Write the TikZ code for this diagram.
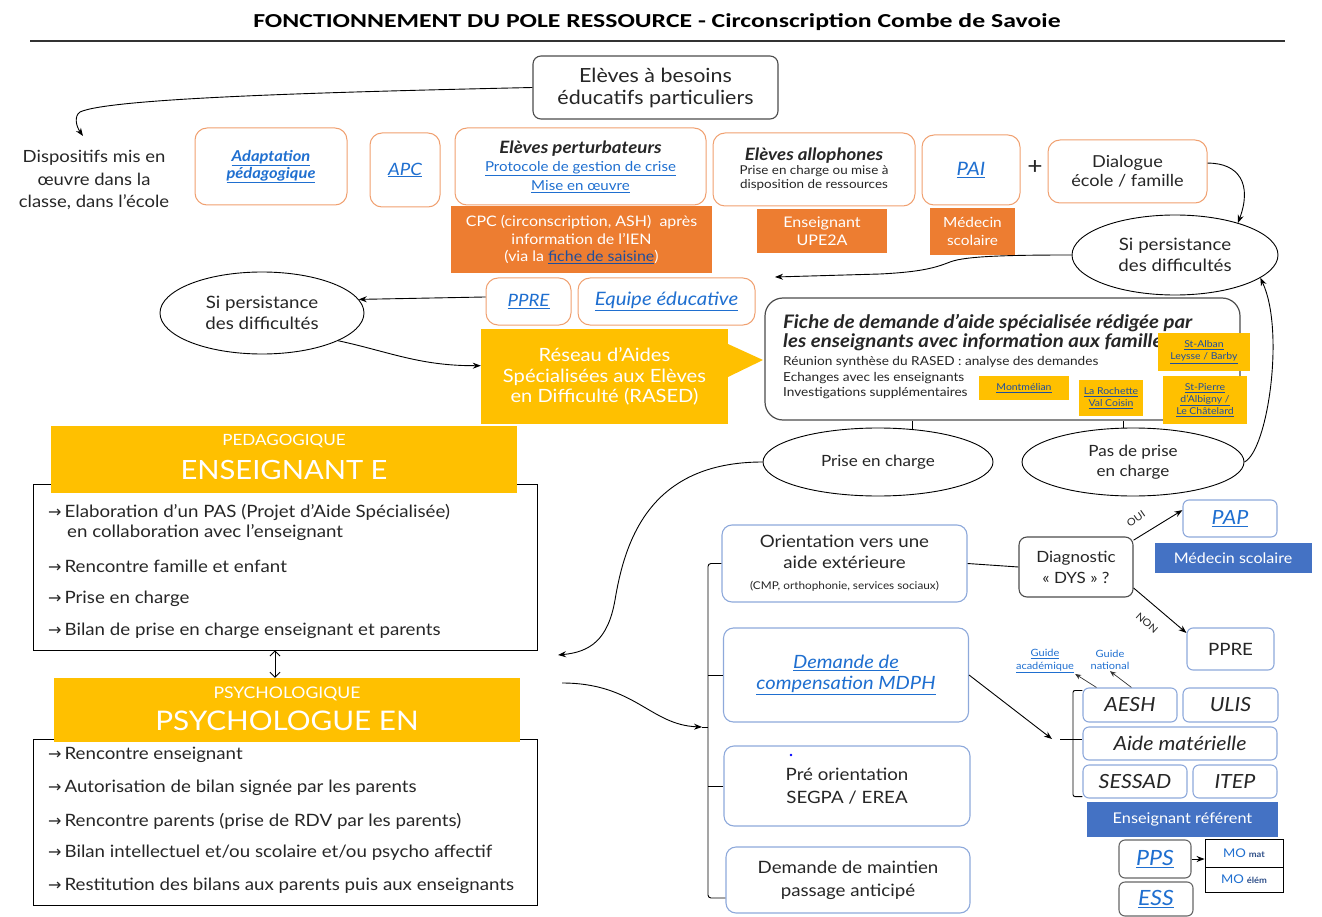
\documentclass[tikz,border=0pt]{standalone}
\usepackage{fontspec}
\setmainfont{Lato}[FakeStretch=1.1]
\newfontfamily\titlefont{Carlito}[FakeStretch=1.3]
\newfontfamily\dejavu{DejaVu Sans}
\usetikzlibrary{shapes.geometric,arrows.meta}
\definecolor{orB}{HTML}{F0A070}
\definecolor{orF}{HTML}{ED7D31}
\definecolor{yel}{HTML}{FFC000}
\definecolor{blF}{HTML}{4472C4}
\definecolor{blB}{HTML}{8EA9DB}
\definecolor{lnk}{HTML}{1F6FD0}
\definecolor{lnkD}{HTML}{1F4E9C}
\definecolor{txt}{HTML}{262626}
\newcommand{\lnk}[1]{\textcolor{lnk}{\underline{#1}}}
\newcommand{\lnkd}[1]{\textcolor{lnkD}{\underline{#1}}}
\newcommand{\fsz}[2]{\fontsize{#1}{#2}\selectfont}
\newcommand{\itemarr}{{\dejavu\fontsize{16}{16}\selectfont →}\kern3pt}
\tikzset{
  obox/.style={draw=orB, line width=1pt, rounded corners=12pt, fill=white, align=center, inner sep=2pt},
  ofill/.style={fill=orF, text=white, align=center, inner sep=2pt},
  bbox/.style={draw=blB, line width=1.1pt, rounded corners=10pt, fill=white, align=center, inner sep=2pt},
  bfill/.style={fill=blF, text=white, align=center, inner sep=2pt},
  ybox/.style={fill=yel, text=white, align=center, inner sep=2pt},
  ysmall/.style={fill=yel, align=center, inner sep=1pt, font=\fsz{9.5}{12}},
  ell/.style={draw=black, line width=0.9pt, ellipse, align=center, inner sep=0pt, fill=white},
  gbox/.style={draw=black!70, line width=1.1pt, rounded corners=8pt, fill=white, align=center, inner sep=2pt},
  plainbox/.style={draw=black, line width=0.9pt, inner sep=0pt},
  txtn/.style={inner sep=0pt, anchor=west},
  arr/.style={-{Stealth[length=8pt,width=6pt]}, line width=0.9pt},
  arrthin/.style={-{Stealth[length=6pt,width=5pt]}, line width=0.7pt, draw=black!80},
}
\begin{document}
\begin{tikzpicture}[x=1pt,y=-1pt, every node/.append style={text=txt}]
\useasboundingbox (0,0) rectangle (1322,917);

% title
\node[font=\titlefont\bfseries\fsz{19.8}{22}, text=black] (title) at (657,22) {FONCTIONNEMENT DU POLE RESSOURCE - Circonscription Combe de Savoie};
\coordinate (ulA) at (30,41);
\coordinate (ulB) at (1285,41);
\draw[line width=1.3pt, black!80] (ulA) -- (ulB);

% top box
\node[gbox, minimum width=245pt, minimum height=63pt, font=\fsz{19.5}{22}] (elev) at (655.5,87.5) {Elèves à besoins\\éducatifs particuliers};
\node[font=\fsz{16.8}{22.5}, align=center, inner sep=0pt] (disp) at (94,180) {Dispositifs mis en\\œuvre dans la\\classe, dans l’école};
\coordinate (dispTop) at (83,136);
\draw[arr] (elev.west) .. controls (330,92) and (110,98) .. (80,112) .. controls (74,116) and (76,126) .. (dispTop);

% orange row
\node[obox, minimum width=152pt, minimum height=77pt, font=\bfseries\itshape\fsz{15}{17}] (adapt) at (271,166.5) {\lnk{Adaptation}\\\lnk{pédagogique}};
\node[obox, minimum width=70pt, minimum height=74pt, font=\itshape\fsz{17}{20}] (apc) at (405,170) {\lnk{APC}};
\node[obox, minimum width=251pt, minimum height=77pt, font=\fsz{13.7}{18.5}] (pert) at (580.5,166.5) {{\bfseries\itshape\fsz{17}{18.5}Elèves perturbateurs}\\\lnk{Protocole de gestion de crise}\\\lnk{Mise en œuvre}};
\node[ofill, minimum width=261pt, minimum height=67pt, font=\fsz{14.5}{17.5}] (cpc) at (581.5,239.5) {CPC (circonscription, ASH)\ \ après\\information de l'IEN\\(via la \lnkd{fiche de saisine})};
\node[obox, minimum width=202pt, minimum height=73pt, font=\fsz{12.2}{14}] (allo) at (814,169.5) {{\bfseries\itshape\fsz{17}{18}Elèves allophones}\\Prise en charge ou mise à\\disposition de ressources};
\node[ofill, minimum width=130pt, minimum height=44pt, font=\fsz{14.6}{18}] (upe) at (822,231) {Enseignant\\UPE2A};
\node[obox, minimum width=98pt, minimum height=70pt, font=\itshape\fsz{18.5}{20}] (pai) at (971,170) {\lnk{PAI}};
\node[ofill, minimum width=85pt, minimum height=47pt, font=\fsz{14}{18.5}] (medo) at (972.5,231.5) {Médecin\\scolaire};
\node[font=\fsz{24}{26}] (plus) at (1035,168) {+};
\node[obox, minimum width=159pt, minimum height=63pt, font=\fsz{16.5}{19}] (dial) at (1127.5,171.5) {Dialogue\\école / famille};

% persistance right
\node[ell, minimum width=206pt, minimum height=80pt, font=\fsz{17}{21}] (pers1) at (1175,255) {Si persistance\\des difficultés};
\draw[arr] (dial.6) .. controls (1240,163) and (1252,185) .. (pers1.27);
\coordinate (leftEnd) at (775,277);
\draw[arr] (pers1.west) .. controls (1010,255) and (965,256) .. (950,262) .. controls (935,268) and (920,272) .. (880,274) -- (leftEnd);

% persistance left, PPRE, equipe
\node[ell, minimum width=204pt, minimum height=82pt, font=\fsz{17}{21}] (pers2) at (262,313) {Si persistance\\des difficultés};
\node[obox, minimum width=85pt, minimum height=47pt, font=\itshape\fsz{17}{20}] (ppre1) at (528.5,301.5) {\lnk{PPRE}};
\node[obox, minimum width=177pt, minimum height=47pt, font=\itshape\fsz{18.5}{20}] (equipe) at (666.5,301.5) {\lnk{Equipe éducative}};
\draw[arr] (ppre1.174) -- (pers2.8);

% RASED
\node[ybox, minimum width=247pt, minimum height=95pt, font=\fsz{18.3}{20.5}] (rased) at (604.5,376.5) {Réseau d’Aides\\Spécialisées aux Elèves\\en Difficulté (RASED)};
\fill[yel] (728,344) -- (763,360) -- (728,377) -- cycle;
\draw[arr] (pers2.-20) .. controls (390,352) and (420,366) .. (rased.175);

% fiche
\node[draw=black!70, line width=1.2pt, rounded corners=18pt, minimum width=475pt, minimum height=122pt, fill=white] (fiche) at (1002.5,359) {};
\node[txtn, font=\bfseries\itshape\fsz{18.6}{20}] (f1) at (783,323) {Fiche de demande d’aide spécialisée rédigée par};
\node[txtn, font=\bfseries\itshape\fsz{18.6}{20}] (f2) at (783,342) {les enseignants avec information aux familles};
\node[txtn, font=\fsz{12.4}{15}] (f3) at (783,362) {Réunion synthèse du RASED : analyse des demandes};
\node[txtn, font=\fsz{12.4}{15}] (f4) at (783,378) {Echanges avec les enseignants};
\node[txtn, font=\fsz{12.4}{15}] (f5) at (783,393) {Investigations supplémentaires};
\node[ysmall, minimum width=92pt, minimum height=38pt] (alban) at (1204,352) {\lnkd{St-Alban}\\\lnkd{Leysse / Barby}};
\node[ysmall, minimum width=90pt, minimum height=24pt] (montm) at (1024,388) {\lnkd{Montmélian}};
\node[ysmall, minimum width=64pt, minimum height=36pt] (laroch) at (1111,398) {\lnkd{La Rochette}\\\lnkd{Val Coisin}};
\node[ysmall, minimum width=84pt, minimum height=48pt] (stp) at (1205,400) {\lnkd{St-Pierre}\\\lnkd{d’Albigny /}\\\lnkd{Le Châtelard}};

% prise en charge
\node[ell, minimum width=230pt, minimum height=68pt, font=\fsz{15.5}{20}] (prise) at (878,462) {Prise en charge};
\node[ell, minimum width=222pt, minimum height=68pt, font=\fsz{15.5}{20}] (pasp) at (1133,462) {Pas de prise\\en charge};
\draw[line width=0.9pt] (prise.44) -- (prise.44 |- fiche.south);
\draw[line width=0.9pt] (pasp.105) -- (pasp.105 |- fiche.south);
\draw[arr] (pasp.east) .. controls (1268,450) and (1285,330) .. (pers1.-15);
\coordinate (pcEnd) at (558,655);
\draw[arr] (prise.west) .. controls (650,462) and (625,540) .. (615,600) .. controls (608,640) and (590,652) .. (pcEnd);

% enseignant box
\node[plainbox, minimum width=504pt, minimum height=166pt] (box1) at (285,567) {};
\node[ybox, minimum width=466pt, minimum height=67pt] (ens) at (284,459.5) {};
\node[font=\fsz{15.5}{16}, text=white] (ensA) at (284,441) {PEDAGOGIQUE};
\node[font=\fsz{26.5}{30}, text=white] (ensB) at (284,470) {ENSEIGNANT E};
\node[txtn, font=\fsz{17}{21}] (i1) at (48,512) {\itemarr Elaboration d’un PAS (Projet d’Aide Spécialisée)};
\node[txtn, font=\fsz{17}{21}] (i1b) at (67,533) {en collaboration avec l’enseignant};
\node[txtn, font=\fsz{17}{21}] (i2) at (48,566) {\itemarr Rencontre famille et enfant};
\node[txtn, font=\fsz{17}{21}] (i3) at (48,599) {\itemarr Prise en charge};
\node[txtn, font=\fsz{17}{21}] (i4) at (48,631) {\itemarr Bilan de prise en charge enseignant et parents};

% psychologue box
\node[plainbox, minimum width=504pt, minimum height=166pt] (box2) at (285,822) {};
\node[ybox, minimum width=466pt, minimum height=64pt] (psy) at (287,710) {};
\node[font=\fsz{16}{16}, text=white] (psyA) at (287,694) {PSYCHOLOGIQUE};
\node[font=\fsz{27}{31}, text=white] (psyB) at (287,721) {PSYCHOLOGUE EN};
\node[txtn, font=\fsz{17}{21}] (j1) at (48,755) {\itemarr Rencontre enseignant};
\node[txtn, font=\fsz{17}{21}] (j2) at (48,788) {\itemarr Autorisation de bilan signée par les parents};
\node[txtn, font=\fsz{17}{21}] (j3) at (48,821) {\itemarr Rencontre parents (prise de RDV par les parents)};
\node[txtn, font=\fsz{17}{21}] (j4) at (48,853) {\itemarr Bilan intellectuel et/ou scolaire et/ou psycho affectif};
\node[txtn, font=\fsz{17}{21}] (j5) at (48,886) {\itemarr Restitution des bilans aux parents puis aux enseignants};
\draw[{Straight Barb[length=5pt]}-{Straight Barb[length=5pt]}, line width=0.8pt] ([xshift=-10pt]box1.south) -- ([xshift=-12pt]psy.north);

% right column
\node[bbox, minimum width=245pt, minimum height=77pt, font=\fsz{17}{21}] (orient) at (844.5,563.5) {Orientation vers une\\aide extérieure\\{\fsz{10.7}{14}(CMP, orthophonie, services sociaux)}};
\node[bbox, minimum width=245pt, minimum height=94pt, font=\itshape\fsz{18.3}{21}] (mdph) at (846,675) {\lnk{Demande de}\\\lnk{compensation MDPH}};
\node[bbox, minimum width=246pt, minimum height=80pt, font=\fsz{17}{23}] (preor) at (847,786) {Pré orientation\\SEGPA / EREA};
\fill[blue] (791,755) circle (1.3);
\node[bbox, minimum width=244pt, minimum height=66pt, font=\fsz{17}{23}] (maint) at (848,880) {Demande de maintien\\passage anticipé};
\coordinate (brBot) at (708,898);
\coordinate (brMid) at (702,727);
\draw[line width=0.9pt, rounded corners=3pt] (orient.west) -| (brBot) -- (brBot -| maint.west);
\draw[line width=0.9pt] (mdph.west) -- (mdph.west -| brBot);
\draw[line width=0.9pt] (preor.west) -- (preor.west -| brBot);
\draw[line width=0.9pt] (brMid) -- (brMid -| brBot);
\coordinate (b2start) at (562,683);
\draw[arr] (b2start) .. controls (635,683) and (650,725) .. (brMid);

% diagnostic
\node[gbox, minimum width=114pt, minimum height=60pt, font=\fsz{15.5}{21}] (diag) at (1076,567) {Diagnostic\\« DYS » ?};
\draw[line width=0.9pt] (orient.east) -- (diag.west);
\node[bbox, minimum width=94pt, minimum height=37pt, rounded corners=6pt, font=\itshape\fsz{19.5}{22}] (pap) at (1230,518.5) {\lnk{PAP}};
\node[bfill, minimum width=157pt, minimum height=30pt, font=\fsz{14.6}{16}] (medb) at (1233,558) {Médecin scolaire};
\node[bbox, minimum width=87pt, minimum height=42pt, rounded corners=6pt, font=\fsz{17}{20}] (ppre2) at (1230.5,649) {PPRE};
\draw[arr] (diag.25) -- (pap.170);
\node[font=\fsz{10}{12}, rotate=35, inner sep=0pt] (oui) at (1136,519) {OUI};
\draw[arr] (diag.-20) -- (ppre2.160);
\node[font=\fsz{10}{12}, rotate=-42, inner sep=0pt] (non) at (1147,623) {NON};

% MDPH group
\node[bbox, minimum width=94pt, minimum height=34pt, rounded corners=6pt, font=\itshape\fsz{19.5}{20}] (aesh) at (1130,705) {AESH};
\node[bbox, minimum width=95pt, minimum height=34pt, rounded corners=6pt, font=\itshape\fsz{19.5}{20}] (ulis) at (1230.5,705) {ULIS};
\node[bbox, minimum width=194pt, minimum height=33pt, rounded corners=6pt, font=\itshape\fsz{19.5}{20}] (aidem) at (1180,743.5) {Aide matérielle};
\node[bbox, minimum width=104pt, minimum height=33pt, rounded corners=6pt, font=\itshape\fsz{19.5}{20}] (sessad) at (1135,781.5) {SESSAD};
\node[bbox, minimum width=84pt, minimum height=33pt, rounded corners=6pt, font=\itshape\fsz{19.5}{20}] (itep) at (1235,781.5) {ITEP};
\node[bfill, minimum width=191pt, minimum height=35pt, font=\fsz{14.8}{16}] (ensref) at (1182.5,819.5) {Enseignant référent};
\node[gbox, draw=black!60, minimum width=72pt, minimum height=38pt, rounded corners=6pt, font=\itshape\fsz{21}{22}] (pps) at (1155,859) {\lnk{PPS}};
\node[gbox, draw=black!60, minimum width=74pt, minimum height=34pt, rounded corners=6pt, font=\itshape\fsz{21}{22}] (ess) at (1156,899) {\lnk{ESS}};
\node[plainbox, minimum width=78pt, minimum height=28pt] (momat) at (1244,853) {\textcolor{lnk}{\fsz{12}{14}MO} \textcolor{blF!70!black}{\bfseries\fsz{8.5}{10}mat}};
\node[plainbox, minimum width=78pt, minimum height=25pt] (moelem) at (1244,879.5) {\textcolor{lnk}{\fsz{12}{14}MO} \textcolor{blF!70!black}{\bfseries\fsz{8.5}{10}élém}};
\draw[arr] (pps.east) -- (pps.east -| momat.west);
\draw[line width=0.9pt, rounded corners=2pt] ([yshift=-3pt]aesh.north west) -| (1073,740) |- ([yshift=2pt]sessad.south west);
\coordinate (br2Mid) at (1052,739);
\coordinate (br2Tick) at (1060,739);
\draw[line width=0.9pt] (br2Tick) -- (br2Tick -| sessad.west) ;
\draw[arr] (mdph.east) -- (br2Mid);
\node[font=\fsz{10}{12.5}, align=center, inner sep=1pt] (guideA) at (1045,661) {\lnk{Guide}\\\lnk{académique}};
\node[font=\fsz{10}{12.5}, align=center, inner sep=1pt, text=lnk] (guideN) at (1110,660) {Guide\\national};
\draw[arrthin] ([xshift=14pt]aesh.north west) -- (guideA.south east);
\draw[arrthin] ([xshift=49pt]aesh.north west) -- (guideN.south);
\end{tikzpicture}
\end{document}
